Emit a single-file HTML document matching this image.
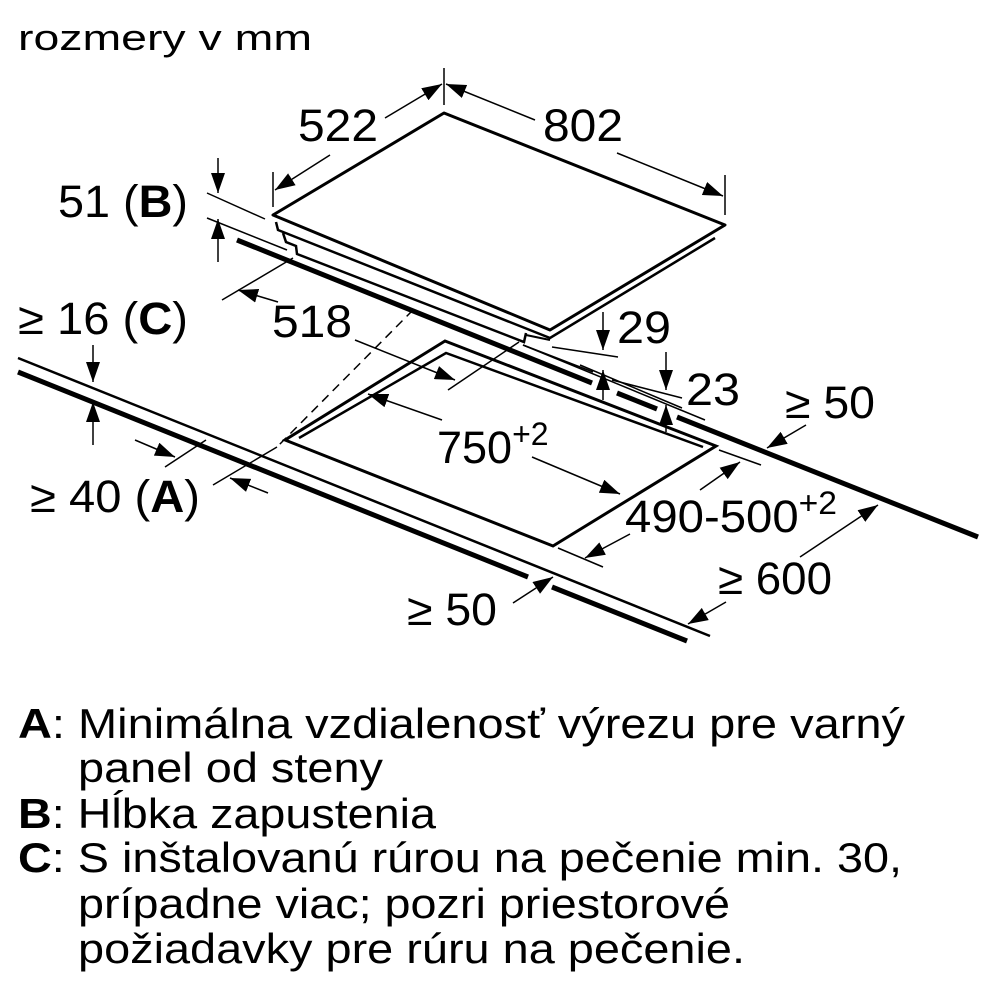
<!DOCTYPE html>
<html><head><meta charset="utf-8"><style>
html,body{margin:0;padding:0;background:#fff;}
svg{display:block;}
text{font-family:"Liberation Sans",Arial,sans-serif;fill:#000;}
</style></head><body>
<svg width="1000" height="1000" viewBox="0 0 1000 1000" xmlns="http://www.w3.org/2000/svg">
<defs>
<marker id="a" viewBox="0 0 20 14" refX="20" refY="7" markerWidth="20" markerHeight="14" markerUnits="userSpaceOnUse" orient="auto">
<path d="M0,0 L20,7 L0,14 z" fill="#000"/></marker>
</defs>
<g stroke="#000" fill="none" stroke-linecap="butt">
<polygon points="273,215 444,113 725,225 550,330" stroke-width="3" stroke-linejoin="round"/>
<polyline points="276,222 278,230 550,338 715,238" stroke-width="2.5"/>
<polyline points="283,233 286,242 296,246 297,254 524,342 526,333" stroke-width="2.5"/>
<line x1="526" y1="335" x2="550" y2="340" stroke-width="2"/>
<polyline points="237,240 592,383" stroke-width="5"/>
<line x1="617" y1="393" x2="657" y2="409" stroke-width="5"/>
<line x1="677" y1="417" x2="978" y2="537" stroke-width="5"/>
<line x1="18" y1="358" x2="710" y2="636" stroke-width="2.5"/>
<line x1="18" y1="372" x2="528" y2="577" stroke-width="5"/>
<line x1="552" y1="587" x2="687" y2="641" stroke-width="5"/>
<polygon points="445,341 716,446 553,546 285,440" stroke-width="3" stroke-linejoin="miter"/>
<polyline points="299,438 446,353 703,447" stroke-width="2.5"/>
<line x1="523" y1="345" x2="705" y2="420" stroke-width="1.5"/>
<line x1="413" y1="310" x2="277" y2="447" stroke-width="1.5" stroke-dasharray="9,6"/>
<line x1="277" y1="447" x2="213" y2="485" stroke-width="1.5"/>
<line x1="206" y1="440" x2="165" y2="467" stroke-width="1.5"/>
<g stroke-width="1.5">
<line x1="273" y1="172" x2="273" y2="207"/>
<line x1="444" y1="68" x2="444" y2="105"/>
<line x1="725" y1="175" x2="725" y2="215"/>
<line x1="330" y1="155" x2="275" y2="190" marker-end="url(#a)"/>
<line x1="385" y1="118" x2="442" y2="84" marker-end="url(#a)"/>
<line x1="535" y1="120" x2="446" y2="84" marker-end="url(#a)"/>
<line x1="617" y1="153" x2="723" y2="196" marker-end="url(#a)"/>
<line x1="207" y1="193" x2="265" y2="219"/>
<line x1="207" y1="218" x2="287" y2="250"/>
<line x1="218" y1="158" x2="218" y2="193" marker-end="url(#a)"/>
<line x1="218" y1="262" x2="218" y2="219" marker-end="url(#a)"/>
<line x1="222" y1="300" x2="293" y2="258"/>
<line x1="278" y1="302" x2="238" y2="290" marker-end="url(#a)"/>
<line x1="448" y1="390" x2="519" y2="342"/>
<line x1="355" y1="340" x2="455" y2="380" marker-end="url(#a)"/>
<line x1="552" y1="347" x2="618" y2="357"/>
<line x1="523" y1="345" x2="593" y2="372"/>
<line x1="603" y1="312" x2="603" y2="350" marker-end="url(#a)"/>
<line x1="603" y1="400" x2="603" y2="370" marker-end="url(#a)"/>
<line x1="612" y1="380" x2="682" y2="398"/>
<line x1="580" y1="365" x2="682" y2="408"/>
<line x1="666" y1="352" x2="666" y2="390" marker-end="url(#a)"/>
<line x1="666" y1="432" x2="666" y2="405" marker-end="url(#a)"/>
<line x1="442" y1="420" x2="368" y2="394" marker-end="url(#a)"/>
<line x1="532" y1="457" x2="620" y2="494" marker-end="url(#a)"/>
<line x1="719" y1="450" x2="761" y2="465"/>
<line x1="700" y1="490" x2="740" y2="462" marker-end="url(#a)"/>
<line x1="558" y1="548" x2="603" y2="567"/>
<line x1="630" y1="534" x2="585" y2="558" marker-end="url(#a)"/>
<line x1="800" y1="557" x2="878" y2="505" marker-end="url(#a)"/>
<line x1="726" y1="602" x2="688" y2="624" marker-end="url(#a)"/>
<line x1="806" y1="425" x2="767" y2="448" marker-end="url(#a)"/>
<line x1="513" y1="603" x2="553" y2="577" marker-end="url(#a)"/>
<line x1="93" y1="345" x2="93" y2="382" marker-end="url(#a)"/>
<line x1="93" y1="445" x2="93" y2="402" marker-end="url(#a)"/>
<line x1="135" y1="440" x2="175" y2="457" marker-end="url(#a)"/>
<line x1="268" y1="493" x2="230" y2="478" marker-end="url(#a)"/>
</g>
</g>
<text x="18" y="50" font-size="36" textLength="294" lengthAdjust="spacingAndGlyphs">rozmery v mm</text>
<g font-size="45">
<text x="298" y="141" textLength="80" lengthAdjust="spacingAndGlyphs">522</text>
<text x="543" y="141" textLength="80" lengthAdjust="spacingAndGlyphs">802</text>
<text x="58" y="217" textLength="130" lengthAdjust="spacingAndGlyphs">51 (<tspan font-weight="bold">B</tspan>)</text>
<text x="18" y="334" textLength="170" lengthAdjust="spacingAndGlyphs">≥ 16 (<tspan font-weight="bold">C</tspan>)</text>
<text x="272" y="337" textLength="80" lengthAdjust="spacingAndGlyphs">518</text>
<text x="617" y="343" textLength="54" lengthAdjust="spacingAndGlyphs">29</text>
<text x="686" y="405" textLength="54" lengthAdjust="spacingAndGlyphs">23</text>
<text x="785" y="418" textLength="90" lengthAdjust="spacingAndGlyphs">≥ 50</text>
<text x="437" y="463">750<tspan font-size="32" dy="-18">+2</tspan></text>
<text x="30" y="512" textLength="170" lengthAdjust="spacingAndGlyphs">≥ 40 (<tspan font-weight="bold">A</tspan>)</text>
<text x="625" y="532" textLength="212" lengthAdjust="spacingAndGlyphs">490-500<tspan font-size="32" dy="-18">+2</tspan></text>
<text x="718" y="594" textLength="114" lengthAdjust="spacingAndGlyphs">≥ 600</text>
<text x="407" y="625" textLength="90" lengthAdjust="spacingAndGlyphs">≥ 50</text>
</g>
<g font-size="42">
<text x="18" y="738" textLength="887" lengthAdjust="spacingAndGlyphs"><tspan font-weight="bold">A</tspan>: Minimálna vzdialenosť výrezu pre varný</text>
<text x="78" y="782" textLength="305" lengthAdjust="spacingAndGlyphs">panel od steny</text>
<text x="18" y="828" textLength="418" lengthAdjust="spacingAndGlyphs"><tspan font-weight="bold">B</tspan>: Hĺbka zapustenia</text>
<text x="18" y="872" textLength="884" lengthAdjust="spacingAndGlyphs"><tspan font-weight="bold">C</tspan>: S inštalovanú rúrou na pečenie min. 30,</text>
<text x="78" y="918" textLength="652" lengthAdjust="spacingAndGlyphs">prípadne viac; pozri priestorové</text>
<text x="78" y="963" textLength="667" lengthAdjust="spacingAndGlyphs">požiadavky pre rúru na pečenie.</text>
</g>
</svg>
</body></html>
